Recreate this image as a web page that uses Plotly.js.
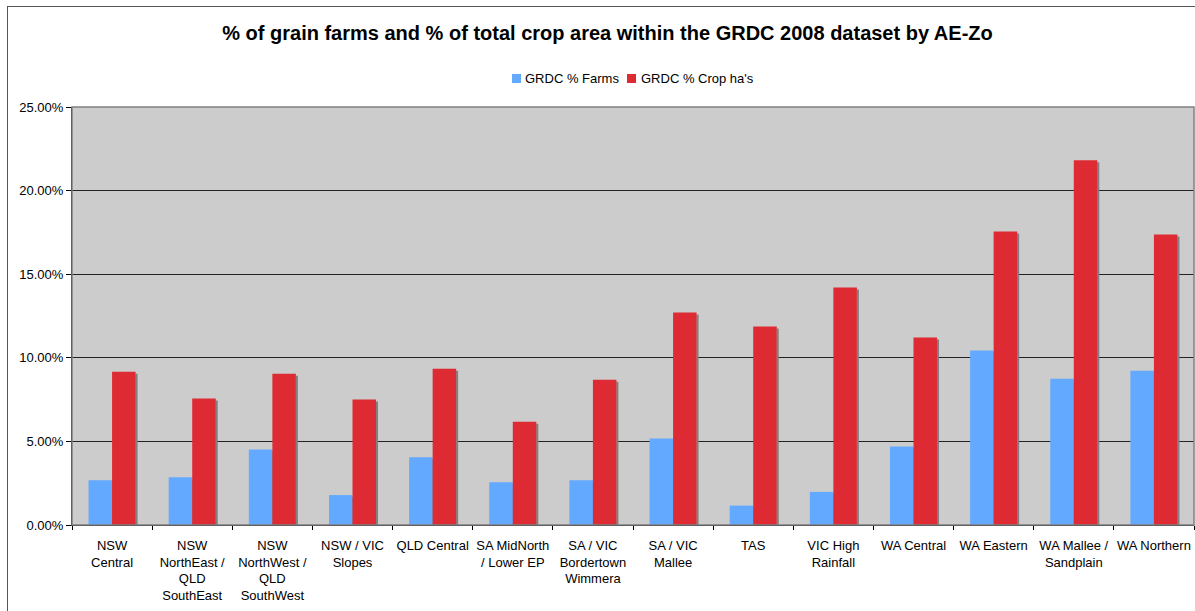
<!DOCTYPE html>
<html>
<head>
<meta charset="utf-8">
<script src="https://cdn.plot.ly/plotly-3.0.1.min.js"></script>
<style>
  html, body { margin: 0; padding: 0; background: #ffffff; overflow: hidden; }
  #frame {
    position: absolute; left: 7px; top: 6px; width: 1300px; height: 700px;
    border-left: 1px solid #555555; border-top: 1px solid #555555;
    box-sizing: border-box; pointer-events: none; z-index: 2;
  }
  #chart { position: absolute; left: 0; top: 0; width: 1195px; height: 611px; }
  /* drop shadow behind each bar */
  #chart .barlayer .trace path { filter: url(#barShadow); }
</style>
</head>
<body>
<svg width="0" height="0" style="position:absolute">
  <defs>
    <filter id="barShadow" x="-50%" y="-10%" width="200%" height="130%">
      <feOffset in="SourceAlpha" dx="2" dy="2" result="off"/>
      <feFlood flood-color="#808080" result="col"/>
      <feComposite in="col" in2="off" operator="in" result="shadow"/>
      <feMerge>
        <feMergeNode in="shadow"/>
        <feMergeNode in="SourceGraphic"/>
      </feMerge>
    </filter>
  </defs>
</svg>
<div id="chart"></div>
<div id="frame"></div>
<script>
// Agro-ecological zones
const zones = [
  "NSW<br>Central",
  "NSW<br>NorthEast /<br>QLD<br>SouthEast",
  "NSW<br>NorthWest /<br>QLD<br>SouthWest",
  "NSW / VIC<br>Slopes",
  "QLD Central",
  "SA MidNorth<br>/ Lower EP",
  "SA / VIC<br>Bordertown<br>Wimmera",
  "SA / VIC<br>Mallee",
  "TAS",
  "VIC High<br>Rainfall",
  "WA Central",
  "WA Eastern",
  "WA Mallee /<br>Sandplain",
  "WA Northern"
];

// Share of grain farms in each zone
const pctFarms = [0.0268, 0.0286, 0.0452, 0.0179, 0.0405, 0.0256, 0.0268,
                  0.0518, 0.0116, 0.0198, 0.0470, 0.1043, 0.0875, 0.0923];

// Share of total crop hectares in each zone
const pctCropHa = [0.0917, 0.0756, 0.0905, 0.0750, 0.0935, 0.0618, 0.0869,
                   0.1271, 0.1187, 0.1420, 0.1121, 0.1756, 0.2181, 0.1738];

const seriesNames = ["GRDC % Farms", "GRDC % Crop ha's"];
const seriesColors = ["#63A9FF", "#DE2B33"];
const yTicks = [0, 0.05, 0.10, 0.15, 0.20, 0.25];

const font = "Arial, 'Liberation Sans', sans-serif";

const data = [
  {
    type: "bar", name: seriesNames[0], x: zones, y: pctFarms,
    marker: { color: seriesColors[0], line: { width: 0 } },
    hoverinfo: "skip"
  },
  {
    type: "bar", name: seriesNames[1], x: zones, y: pctCropHa,
    marker: { color: seriesColors[1], line: { width: 0 } },
    hoverinfo: "skip"
  }
];

// Compact legend row above the plot: coloured swatch followed by its label
const legendSwatchX = [0.39216, 0.49465];
const legendTextX = [0.40196, 0.50535];
const legendShapes = seriesColors.map((c, i) => ({
  type: "rect", xref: "paper", yref: "paper",
  x0: legendSwatchX[i], x1: legendSwatchX[i] + 0.00802,
  y0: 1.0574, y1: 1.0790,
  fillcolor: c, line: { width: 0 }, layer: "above"
}));
const legendLabels = seriesNames.map((n, i) => ({
  text: n, xref: "paper", yref: "paper",
  x: legendTextX[i], y: 1.0682, xanchor: "left", yanchor: "middle",
  showarrow: false, font: { family: font, size: 13, color: "#000000" }
}));

const layout = {
  width: 1195, height: 611,
  margin: { l: 72, r: 1, t: 107, b: 86, pad: 0 },
  paper_bgcolor: "rgba(0,0,0,0)",
  plot_bgcolor: "#CCCCCC",
  font: { family: font, size: 13, color: "#000000" },
  title: {
    text: "% of grain farms and % of total crop area within the GRDC 2008 dataset by AE-Zo",
    font: { family: font, size: 20, color: "#000000", weight: "bold" },
    x: 607.5 / 1195, xanchor: "center", xref: "container",
    y: 1 - 33 / 611, yanchor: "middle", yref: "container"
  },
  showlegend: false,
  barmode: "group",
  bargap: 0.413,
  bargroupgap: 0,
  xaxis: {
    type: "category",
    tickson: "boundaries",
    ticks: "outside", ticklen: 4, tickwidth: 1, tickcolor: "#000000",
    showline: true, linecolor: "#000000", linewidth: 1,
    showgrid: false, zeroline: false,
    tickfont: { family: font, size: 13, color: "#000000" },
    ticklabelstandoff: 8,
    tickangle: 0,
    fixedrange: true
  },
  yaxis: {
    range: [0, 0.25],
    tickvals: yTicks,
    tickformat: ".2%",
    ticks: "outside", ticklen: 5, tickwidth: 1, tickcolor: "#000000",
    showline: true, linecolor: "#000000", linewidth: 1,
    showgrid: true, gridcolor: "#222222", gridwidth: 1,
    zeroline: false,
    tickfont: { family: font, size: 13, color: "#000000" },
    fixedrange: true
  },
  annotations: legendLabels,
  shapes: [
    {
      type: "rect", xref: "paper", yref: "paper",
      x0: 0, x1: 1, y0: 0, y1: 1,
      line: { color: "#808080", width: 1.5 },
      fillcolor: "rgba(0,0,0,0)", layer: "above"
    }
  ].concat(legendShapes)
};

Plotly.newPlot("chart", data, layout, { displayModeBar: false, staticPlot: true });
</script>
</body>
</html>
